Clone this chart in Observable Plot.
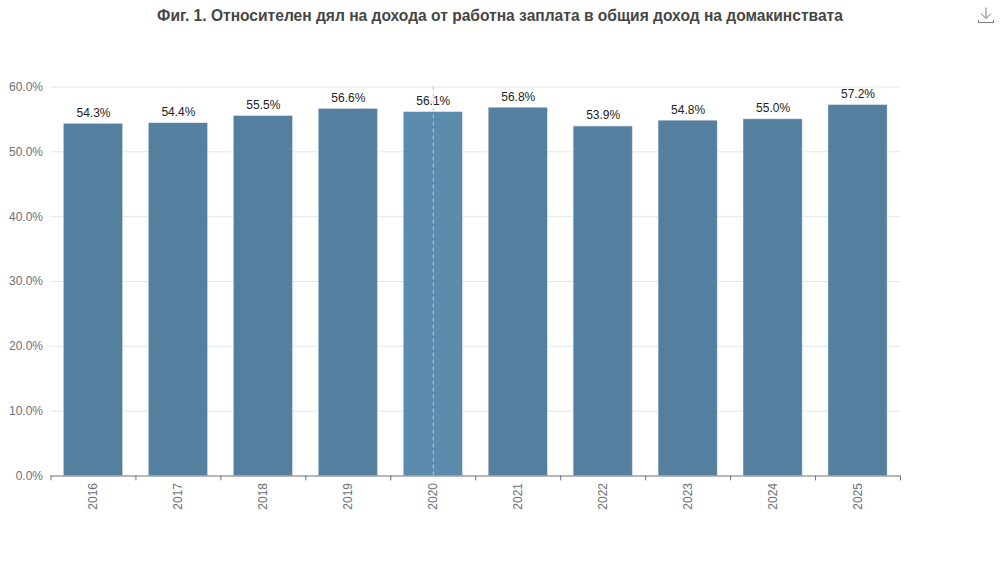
<!DOCTYPE html>
<html><head><meta charset="utf-8">
<script src="https://cdn.jsdelivr.net/npm/d3@7"></script>
<script src="https://cdn.jsdelivr.net/npm/@observablehq/plot@0.6"></script>
<style>
html,body{margin:0;padding:0;background:#fff;width:1000px;height:576px;overflow:hidden}
#wrap{position:relative;width:1000px;height:576px;font-family:"Liberation Sans",Arial,sans-serif}
#title{position:absolute;left:0;top:7px;width:1000px;text-align:center;font-size:15.58px;font-weight:bold;color:#464646;line-height:18px;white-space:nowrap}
#dl{position:absolute;left:978px;top:7px}
</style></head><body>
<div id="wrap">
<div id="title">Фиг. 1. Относителен дял на дохода от работна заплата в общия доход на домакинствата</div>
<svg id="dl" width="16" height="16" viewBox="0 0 16 16" fill="none" stroke="#7a7a7a" stroke-width="1"><path d="M8 0.5V11M3 6.5L8 11.5L13 6.5M0.5 13V15.5H15.5V13"/></svg>
<div id="chart"></div>
</div>
<script>
const years = ["2016","2017","2018","2019","2020","2021","2022","2023","2024","2025"];
const shares = [54.3,54.4,55.5,56.6,56.1,56.8,53.9,54.8,55.0,57.2];
const highlightYear = "2020";
const yTicks = [0,10,20,30,40,50,60];
const rows = years.map((year,i)=>({year,share:shares[i]}));
const fmt = v => v.toFixed(1)+"%";
const step = 84.95;
const plot = Plot.plot({
  width:1000,height:576,
  marginLeft:50.5,marginRight:100,marginTop:86.5,marginBottom:100.5,
  style:{fontFamily:'"Liberation Sans",Arial,sans-serif',fontSize:"12px",background:"#fff",overflow:"visible"},
  x:{type:"band",domain:years,paddingInner:0.305,paddingOuter:0.1525,align:0.5,round:false,label:null},
  y:{domain:[0,60],label:null},
  marks:[
    Plot.ruleY(yTicks.filter(d=>d>0),{stroke:"#e0e6f1",strokeWidth:1}),
    Plot.barY(rows,{x:"year",y:"share",fill:d=>d.year===highlightYear?"#5b8bad":"#557f9f",stroke:"#cfdbe5",strokeWidth:0.5}),
    Plot.ruleY([0],{stroke:"#6e7079",strokeWidth:1}),
    Plot.ruleX(years,{x:d=>d,y1:0,y2:-0.75,dx:-step/2,stroke:"#6e7079"}),
    Plot.ruleX(years.slice(-1),{x:d=>d,y1:0,y2:-0.75,dx:step/2,stroke:"#6e7079"}),
    Plot.ruleX([highlightYear],{x:d=>d,y1:0,y2:60,stroke:"#c0c4cc",strokeDasharray:"4 3",strokeWidth:1}),
    Plot.text(rows,{x:"year",y:"share",text:d=>fmt(d.share),dy:-11,fill:"#222",fontSize:12}),
    Plot.axisY({ticks:yTicks,tickFormat:fmt,tickSize:0,tickPadding:8,fill:"#6e7079",fontSize:12,label:null}),
    Plot.axisX({tickSize:0,tickRotate:-90,tickPadding:7,fill:"#6e7079",fontSize:12,label:null})
  ]
});
document.getElementById("chart").appendChild(plot);
</script>
</body></html>
